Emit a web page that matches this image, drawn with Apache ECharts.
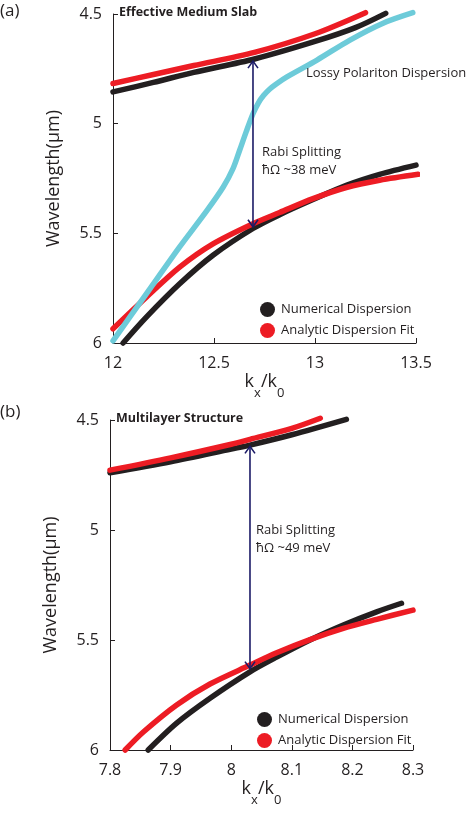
<!DOCTYPE html>
<html>
<head>
<meta charset="utf-8">
<script src="https://cdn.jsdelivr.net/npm/echarts@6/dist/echarts.min.js"></script>
<style>html,body{margin:0;padding:0;background:#fff}#c{width:468px;height:813px}</style>
</head>
<body>
<div id="c"></div>
<script>
// ---- Panel (a): Effective Medium Slab ----
var aUpperBlackX = [12.0, 12.2, 12.4, 12.7, 13.0, 13.2, 13.35];
var aUpperBlackY = [4.855, 4.812, 4.766, 4.705, 4.625, 4.562, 4.497];
var aUpperRedX = [12.0, 12.2, 12.4, 12.7, 13.0, 13.25];
var aUpperRedY = [4.817, 4.776, 4.735, 4.675, 4.590, 4.494];
var aLowerBlackX = [12.05, 12.165, 12.33, 12.495, 12.693, 12.825, 12.99, 13.155, 13.32, 13.5];
var aLowerBlackY = [6.0, 5.882, 5.73, 5.60, 5.478, 5.415, 5.346, 5.281, 5.231, 5.189];
var aLowerRedX = [12.0, 12.165, 12.33, 12.495, 12.693, 12.825, 12.99, 13.155, 13.32, 13.51];
var aLowerRedY = [5.935, 5.791, 5.654, 5.548, 5.456, 5.405, 5.342, 5.291, 5.258, 5.231];
var aCyanX = [12.0, 12.165, 12.33, 12.462, 12.545, 12.594, 12.627, 12.66, 12.693, 12.72, 12.745, 12.775, 12.81, 12.861, 13.01, 13.173, 13.337, 13.484];
var aCyanY = [5.99, 5.776, 5.562, 5.40, 5.29, 5.205, 5.121, 5.035, 4.955, 4.905, 4.872, 4.843, 4.818, 4.787, 4.71, 4.619, 4.542, 4.494];
var aArrow = [12.693, 4.715, 5.47];
var aXTicks = [12, 12.5, 13, 13.5];

// ---- Panel (b): Multilayer Structure ----
var bUpperBlackX = [7.8, 7.9, 8.0, 8.031, 8.1, 8.19];
var bUpperBlackY = [4.74, 4.69, 4.632, 4.614, 4.567, 4.497];
var bUpperRedX = [7.8, 7.9, 8.0, 8.031, 8.1, 8.147];
var bUpperRedY = [4.728, 4.672, 4.61, 4.588, 4.538, 4.492];
var bLowerBlackX = [7.863, 7.91, 7.965, 8.031, 8.075, 8.13, 8.185, 8.24, 8.281];
var bLowerBlackY = [6.0, 5.878, 5.765, 5.645, 5.578, 5.5, 5.432, 5.372, 5.333];
var bLowerRedX = [7.825, 7.855, 7.91, 7.965, 8.031, 8.075, 8.13, 8.185, 8.24, 8.3];
var bLowerRedY = [6.0, 5.918, 5.795, 5.70, 5.614, 5.558, 5.498, 5.447, 5.406, 5.364];
var bArrow = [8.031, 4.62, 5.63];
var bXTicks = [7.8, 7.9, 8.0, 8.1, 8.2, 8.3];

var yTicks = [4.5, 5, 5.5, 6];

var BLACK = '#231f20', RED = '#ed1c24', CYAN = '#6dcbd9', NAVY = '#1b1a66';
var FONT = 'Open Sans';

function pts(xs, ys) { return xs.map(function (x, i) { return [x, ys[i]]; }); }

function curve(name, xs, ys, color, idx, z) {
  return {
    type: 'line', name: name, xAxisIndex: idx, yAxisIndex: idx,
    data: pts(xs, ys), smooth: 0.3, showSymbol: false, symbol: 'none',
    clip: false, z: z, silent: true,
    lineStyle: { color: color, width: 5.5, cap: 'round', join: 'round' },
    itemStyle: { color: color }
  };
}

function arrowSeries(arr, idx) {
  return {
    type: 'custom', xAxisIndex: idx, yAxisIndex: idx, z: 10, silent: true,
    data: [arr],
    encode: { x: 0, y: [1, 2] },
    renderItem: function (params, api) {
      var p1 = api.coord([api.value(0), api.value(1)]);
      var p2 = api.coord([api.value(0), api.value(2)]);
      var h = 7, w = 5;
      var st = { stroke: NAVY, lineWidth: 1.6, fill: null };
      return {
        type: 'group', children: [
          { type: 'line', shape: { x1: p1[0], y1: p1[1], x2: p2[0], y2: p2[1] }, style: st },
          { type: 'polyline', shape: { points: [[p1[0] - w, p1[1] + h], [p1[0], p1[1]], [p1[0] + w, p1[1] + h]] }, style: st },
          { type: 'polyline', shape: { points: [[p2[0] - w, p2[1] - h], [p2[0], p2[1]], [p2[0] + w, p2[1] - h]] }, style: st }
        ]
      };
    }
  };
}

function xAxisCfg(idx, ticks) {
  var interval = Math.round((ticks[1] - ticks[0]) * 1000) / 1000;
  return {
    type: 'value', gridIndex: idx, min: ticks[0], max: ticks[ticks.length - 1], interval: interval,
    axisLine: { show: true, onZero: false, lineStyle: { color: BLACK, width: 1 } },
    axisTick: { show: true, inside: true, length: 5, lineStyle: { color: BLACK } },
    splitLine: { show: false },
    axisLabel: { color: BLACK, fontFamily: FONT, fontSize: 16, margin: 12,
      formatter: function (v) { return String(Math.round(v * 1000) / 1000); } },
    name: '{k|k}{s|x}{k|/k}{s|0}', nameLocation: 'middle', nameGap: 30,
    nameTextStyle: {
      rich: {
        k: { fontFamily: FONT, fontSize: 18, color: BLACK, verticalAlign: 'top', lineHeight: 20 },
        s: { fontFamily: FONT, fontSize: 13, color: BLACK, verticalAlign: 'bottom', lineHeight: 27 }
      }
    }
  };
}

function yAxisCfg(idx) {
  return {
    type: 'value', gridIndex: idx, inverse: true, min: yTicks[0], max: yTicks[yTicks.length - 1], interval: 0.5,
    axisLine: { show: true, onZero: false, lineStyle: { color: BLACK, width: 1 } },
    axisTick: { show: true, inside: true, length: 5, lineStyle: { color: BLACK } },
    splitLine: { show: false },
    axisLabel: { color: BLACK, fontFamily: FONT, fontSize: 16, margin: 11 },
    name: 'Wavelength(\u03bcm)', nameLocation: 'middle', nameRotate: 90, nameGap: 50,
    nameTextStyle: { fontFamily: FONT, fontSize: 18, color: BLACK }
  };
}

function legendCfg(left, top) {
  return {
    left: left, top: top, orient: 'vertical', icon: 'circle', itemWidth: 15, itemHeight: 15, itemGap: 6,
    selectedMode: false,
    textStyle: { fontFamily: FONT, fontSize: 13, color: BLACK, padding: [0, 0, 0, 1] },
    data: [
      { name: 'Numerical Dispersion', itemStyle: { color: BLACK } },
      { name: 'Analytic Dispersion Fit', itemStyle: { color: RED } }
    ]
  };
}

function txt(x, y, s, size, bold) {
  return { type: 'text', left: x, top: y, z: 20, silent: true,
    style: { text: s, fontFamily: FONT, fontSize: size, fontWeight: bold ? 'bold' : 'normal', fill: BLACK } };
}

var chart = echarts.init(document.getElementById('c'), null, { renderer: 'canvas' });
chart.setOption({
  animation: false,
  backgroundColor: '#fff',
  grid: [
    { left: 113, top: 14, width: 303, height: 329 },
    { left: 110, top: 420, width: 303, height: 330 }
  ],
  xAxis: [xAxisCfg(0, aXTicks), xAxisCfg(1, bXTicks)],
  yAxis: [yAxisCfg(0), yAxisCfg(1)],
  legend: [legendCfg(255, 297), legendCfg(252, 707)],
  graphic: [
    txt(0, 3, '(a)', 17),
    txt(0, 404, '(b)', 17),
    txt(119, 6, 'Effective Medium Slab', 12.5, true),
    txt(116, 412, 'Multilayer Structure', 12.5, true),
    txt(306, 67, 'Lossy Polariton Dispersion', 13),
    txt(262, 146, 'Rabi Splitting', 13),
    txt(262, 164, '\u0127\u03a9 ~38 meV', 13),
    txt(256, 524, 'Rabi Splitting', 13),
    txt(256, 542, '\u0127\u03a9 ~49 meV', 13)
  ],
  series: [
    curve('Numerical Dispersion', aUpperBlackX, aUpperBlackY, BLACK, 0, 2),
    curve('Numerical Dispersion', aLowerBlackX, aLowerBlackY, BLACK, 0, 2),
    curve('Analytic Dispersion Fit', aUpperRedX, aUpperRedY, RED, 0, 3),
    curve('Analytic Dispersion Fit', aLowerRedX, aLowerRedY, RED, 0, 3),
    curve('Lossy Polariton Dispersion', aCyanX, aCyanY, CYAN, 0, 4),
    arrowSeries(aArrow, 0),
    curve('Numerical Dispersion', bUpperBlackX, bUpperBlackY, BLACK, 1, 2),
    curve('Numerical Dispersion', bLowerBlackX, bLowerBlackY, BLACK, 1, 2),
    curve('Analytic Dispersion Fit', bUpperRedX, bUpperRedY, RED, 1, 3),
    curve('Analytic Dispersion Fit', bLowerRedX, bLowerRedY, RED, 1, 3),
    arrowSeries(bArrow, 1)
  ]
});
</script>
</body>
</html>
